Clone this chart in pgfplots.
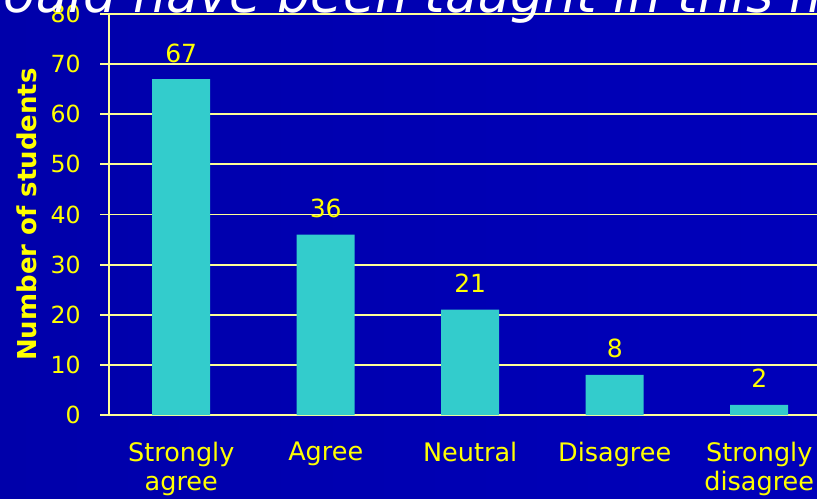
\documentclass[border=0pt]{standalone}
\usepackage{pgfplots}
\pgfplotsset{compat=1.18}
\usepackage{fontspec}
\setmainfont{DejaVu Sans}
\definecolor{bgblue}{RGB}{0,0,186}
\definecolor{bgdark}{RGB}{0,0,170}
\definecolor{barcyan}{RGB}{51,204,204}
\definecolor{gridyel}{RGB}{255,255,150}
\definecolor{txtyel}{RGB}{255,255,0}
\begin{document}
\begin{tikzpicture}
\path[use as bounding box] (0,0) rectangle (408.5pt,249pt);
\clip (0,0) rectangle (408.5pt,249pt);
\shade[left color=bgdark,right color=bgblue] (0,0) rectangle (408.5pt,249pt);
\begin{axis}[
  at={(54.5pt,41.5pt)}, anchor=south west,
  scale only axis, width=354pt, height=200.5pt,
  xmin=-0.5, xmax=4.4, ymin=0, ymax=80,
  clip=false,
  axis lines*=left,
  axis line style={gridyel, line width=0.9pt},
  ymajorgrids, grid style={gridyel, line width=0.9pt},
  ytick={0,10,...,80},
  xtick={0,1,2,3,4},
  xticklabels={Strongly\\agree, Agree\\\phantom{g}, Neutral\\\phantom{g}, Disagree\\\phantom{g}, Strongly\\disagree},
  xtick style={draw=none},
  ytick style={gridyel, line width=0.9pt},
  tick align=outside, major tick length=4.5pt,
  /pgf/number format/assume math mode=true,
  yticklabel style={font=\fontsize{11.8}{14}\selectfont, text=txtyel, anchor=east, inner sep=0pt, xshift=-9.5pt},
  xticklabel style={font=\fontsize{12.75}{14.5}\selectfont, text=txtyel, align=center, anchor=north, inner sep=0pt, yshift=-9pt},
  ylabel={\bfseries Number of students},
  ylabel style={at={(rel axis cs:0,0.5)}, anchor=center, yshift=41pt, font=\fontsize{13}{15}\selectfont, text=txtyel},
  ybar, bar width=29pt,
  nodes near coords,
  every node near coord/.style={font=\fontsize{12.5}{14}\selectfont, text=txtyel, anchor=base, yshift=8.5pt},
]
\addplot[fill=barcyan, draw=none] coordinates {(0,67) (1,36) (2,21) (3,8) (4,2)};
\end{axis}
\node[anchor=base west, text=white, inner sep=0pt, font=\fontsize{26.1}{30}\selectfont\itshape] at (-28.4pt,242.5pt) {should have been taught in this module};
\end{tikzpicture}
\end{document}
